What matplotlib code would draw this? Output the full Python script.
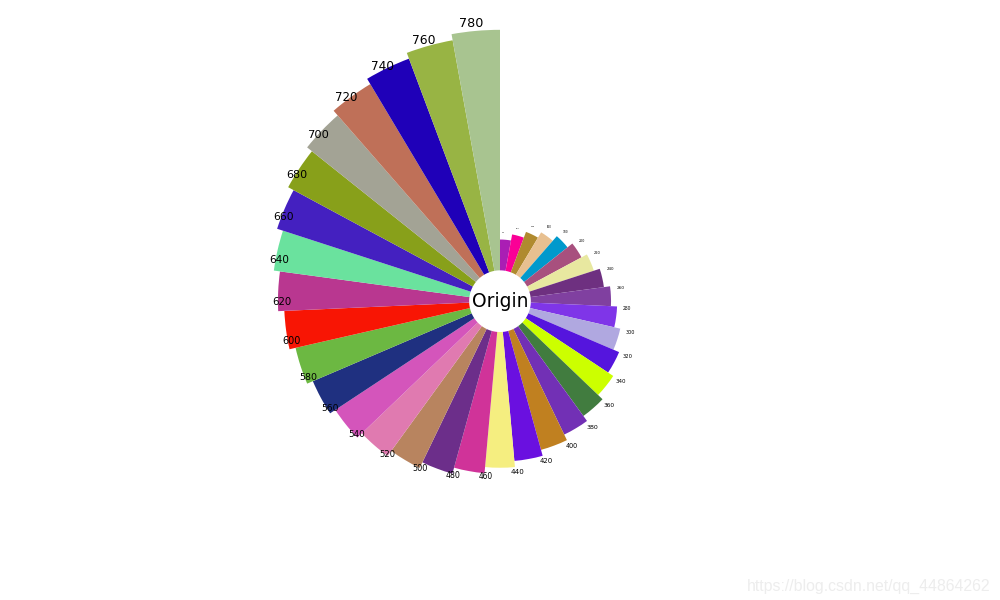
import matplotlib.pyplot as plt
import numpy as np

# values of the rose petals, clockwise from the top
values = list(range(100, 800, 20))
colors = ['#AA1EB4', '#FA0096', '#B08A2E', '#E8C090', '#0099CC', '#A8507E',
          '#E8E8A0', '#6E3080', '#8040A0', '#7F35E8', '#B0A8E0', '#5515DD',
          '#CCFF00', '#417C3F', '#7230B5', '#C08020', '#6A10E0', '#F5EE80',
          '#D03399', '#6C2E8A', '#B8845F', '#E07AB0', '#D455BB', '#1F3080',
          '#6CB842', '#F81504', '#B93790', '#6AE29E', '#4420C0', '#88A01A',
          '#A3A395', '#BF7058', '#1F00B8', '#98B444', '#A8C490']
bottom = 100

n = len(values)
width = 2 * np.pi / n
theta = np.arange(n) * width

fig = plt.figure(figsize=(10, 6), dpi=100)
ax = fig.add_axes([0.224, 0.038, 0.552, 0.92], projection='polar')
ax.set_theta_zero_location('N')
ax.set_theta_direction(-1)

ax.bar(theta, values, width=width, bottom=bottom, color=colors, align='edge')

# labels, font grows with the value
for t, v in zip(theta, values):
    ax.text(t + 0.03, bottom + v + 20, str(v), fontsize=v / 85)

ax.text(0, 0, 'Origin', ha='center', va='center', fontsize=13.5)
ax.set_ylim(0, 895)
ax.axis('off')

# blog watermark
fig.text(0.99, 0.016, 'https://blog.csdn.net/qq_44864262', ha='right',
         va='baseline', fontsize=11.4, family='Liberation Sans',
         color='#EDEDED')

fig.savefig('out.png', dpi=100)
